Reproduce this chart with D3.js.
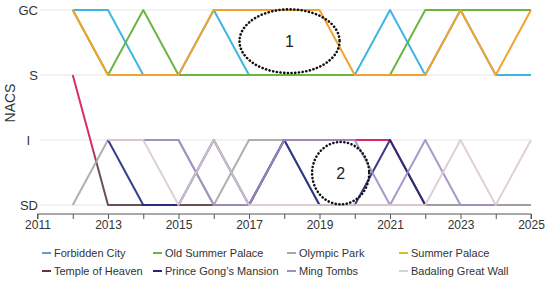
<!DOCTYPE html>
<html>
<head>
<meta charset="utf-8">
<script src="https://cdn.jsdelivr.net/npm/d3@7"></script>
<style>
  body { margin: 0; background: #fff; }
  text { font-family: "Liberation Sans", Arial, sans-serif; fill: #333; }
</style>
</head>
<body>
<div id="chart"></div>
<script>
// NACS levels, bottom to top
const levels = ['SD', 'I', 'S', 'GC'];
const years = [2012, 2013, 2014, 2015, 2016, 2017, 2018, 2019, 2020, 2021, 2022, 2023, 2024, 2025];
const yearTicks = [2011, 2013, 2015, 2017, 2019, 2021, 2023, 2025];

const forbiddenCity    = ['GC', 'GC', 'S', 'S', 'GC', 'S', 'S', 'S', 'S', 'GC', 'S', 'GC', 'S', 'S'];
const oldSummerPalace  = ['GC', 'S', 'GC', 'S', 'S', 'S', 'S', 'S', 'S', 'S', 'GC', 'GC', 'GC', 'GC'];
const summerPalace     = ['GC', 'S', 'S', 'S', 'GC', 'GC', 'GC', 'GC', 'S', 'S', 'S', 'GC', 'S', 'GC'];
const templeOfHeaven   = ['S', 'SD', 'SD', 'SD', 'SD', 'SD', 'I', 'I', 'I', 'I', 'SD', 'SD', 'SD', 'SD'];
const olympicPark      = ['SD', 'I', 'I', 'I', 'SD', 'I', 'I', 'SD', 'SD', 'SD', 'SD', 'SD', 'SD', 'SD'];
const princeGong       = [null, 'I', 'SD', 'SD', 'I', 'SD', 'I', 'SD', 'SD', 'I', 'SD', null, null, null];
const mingTombs        = [null, null, 'I', 'I', 'SD', 'SD', 'I', 'I', 'I', 'SD', 'I', 'SD', 'SD', null];
const badalingWall     = [null, 'I', 'I', 'SD', 'I', 'SD', 'SD', 'SD', 'SD', 'SD', 'SD', 'I', 'SD', 'I'];

// drawing order (later on top)
const series = [
  { name: 'Temple of Heaven', values: templeOfHeaven, color: 'url(#templeGrad)', key: '#5e3a3c' },
  { name: 'Olympic Park', values: olympicPark, color: '#a6a6a6', key: '#a6a6a6' },
  { name: 'Prince Gong\u2019s Mansion', values: princeGong, color: '#22287e', key: '#22287e' },
  { name: 'Ming Tombs', values: mingTombs, color: '#9d8fc4', key: '#9d8fc4' },
  { name: 'Badaling Great Wall', values: badalingWall, color: '#dccbd1', key: '#d4d4d4' },
  { name: 'Forbidden City', values: forbiddenCity, color: '#3fb6e2', key: '#6a96d6' },
  { name: 'Old Summer Palace', values: oldSummerPalace, color: '#6bb543', key: '#6bb543' },
  { name: 'Summer Palace', values: summerPalace, color: '#f2a22e', key: '#d9bf2c' }
];

const legendOrder = ['Forbidden City', 'Old Summer Palace', 'Olympic Park', 'Summer Palace',
  'Temple of Heaven', 'Prince Gong\u2019s Mansion', 'Ming Tombs', 'Badaling Great Wall'];

// dotted annotations: centre year, centre level (index), radii in years / levels
const notes = [
  { label: '1', year: 2018.15, level: 2.52, rx: 1.42, ry: 0.49 },
  { label: '2', year: 2019.6, level: 0.49, rx: 0.81, ry: 0.48 }
];

const width = 550, height = 281;
const margin = { top: 10, right: 19, bottom: 76, left: 37.5 };

const svg = d3.select('#chart').append('svg')
  .attr('width', width)
  .attr('height', height);

const x = d3.scaleLinear()
  .domain([2011, 2025])
  .range([margin.left, width - margin.right]);

const y = d3.scaleLinear()
  .domain([0, levels.length - 1])
  .range([height - margin.bottom, margin.top]);

const lvl = v => levels.indexOf(v);

// gradient for Temple of Heaven line (crimson to brown)
const grad = svg.append('defs').append('linearGradient')
  .attr('id', 'templeGrad')
  .attr('gradientUnits', 'userSpaceOnUse')
  .attr('x1', 0).attr('x2', 0)
  .attr('y1', y(1) + 2).attr('y2', y(1) + 28);
grad.append('stop').attr('offset', 0).attr('stop-color', '#d8125c');
grad.append('stop').attr('offset', 1).attr('stop-color', '#5e3a3c');

// grid lines
svg.append('g')
  .selectAll('line')
  .data(levels)
  .enter().append('line')
  .attr('x1', x(2011) + 3)
  .attr('x2', x(2025))
  .attr('y1', d => y(lvl(d)))
  .attr('y2', d => y(lvl(d)))
  .attr('stroke', '#e6e6e6')
  .attr('stroke-width', 1);

// y labels
svg.append('g')
  .selectAll('text')
  .data(levels)
  .enter().append('text')
  .attr('x', d => d === 'I' ? 30 : 38)
  .attr('y', d => y(lvl(d)))
  .attr('dy', '0.36em')
  .attr('text-anchor', 'end')
  .style('font-size', '13px')
  .text(d => d);

svg.append('text')
  .attr('transform', 'translate(15,103) rotate(-90)')
  .attr('text-anchor', 'middle')
  .style('font-size', '14px')
  .text('NACS');

// x axis
const xAxis = d3.axisBottom(x)
  .tickValues(d3.range(2011, 2026))
  .tickSize(5)
  .tickFormat(d => yearTicks.includes(d) ? d : '');

const gx = svg.append('g')
  .attr('transform', 'translate(0,' + (y(0) + 9) + ')')
  .call(xAxis);
gx.select('.domain').attr('stroke', '#555').attr('d', 'M' + x(2011) + ',5V0H' + x(2025) + 'V5');
gx.selectAll('.tick line').attr('stroke', '#555');
gx.selectAll('.tick text')
  .attr('dy', '0.55em')
  .style('font-size', '12px')
  .style('font-family', '"Liberation Sans", Arial, sans-serif')
  .attr('fill', '#333');

// lines
const line = d3.line()
  .defined(d => d.v !== null)
  .x(d => x(d.year))
  .y(d => y(lvl(d.v)));

series.forEach(s => {
  svg.append('path')
    .datum(years.map((yr, i) => ({ year: yr, v: s.values[i] })))
    .attr('fill', 'none')
    .attr('stroke', s.color)
    .attr('stroke-width', 2)
    .attr('stroke-linejoin', 'round')
    .attr('opacity', s.values.some(v => v === 'SD') ? 0.9 : 1)
    .attr('d', line);
});

// annotations
notes.forEach(n => {
  svg.append('ellipse')
    .attr('cx', x(n.year))
    .attr('cy', y(n.level))
    .attr('rx', x(n.year + n.rx) - x(n.year))
    .attr('ry', y(0) - y(n.ry))
    .attr('fill', 'none')
    .attr('stroke', '#111')
    .attr('stroke-width', 2.6)
    .attr('stroke-linecap', 'round')
    .attr('stroke-dasharray', '0.1 3.6');
  svg.append('text')
    .attr('x', x(n.year))
    .attr('y', y(n.level))
    .attr('dy', '0.36em')
    .attr('text-anchor', 'middle')
    .style('font-size', '16px')
    .style('fill', '#222')
    .text(n.label);
});

// legend
const colX = [42, 153, 287, 399];
const rowY = [253, 271];
legendOrder.forEach((name, i) => {
  const s = series.find(d => d.name === name);
  const cx = colX[i % 4], cy = rowY[Math.floor(i / 4)];
  svg.append('line')
    .attr('x1', cx).attr('x2', cx + 9)
    .attr('y1', cy).attr('y2', cy)
    .attr('stroke', s.key)
    .attr('stroke-width', 2);
  svg.append('text')
    .attr('x', cx + 12)
    .attr('y', cy)
    .attr('dy', '0.35em')
    .style('font-size', '11px')
    .text(name);
});
</script>
</body>
</html>
